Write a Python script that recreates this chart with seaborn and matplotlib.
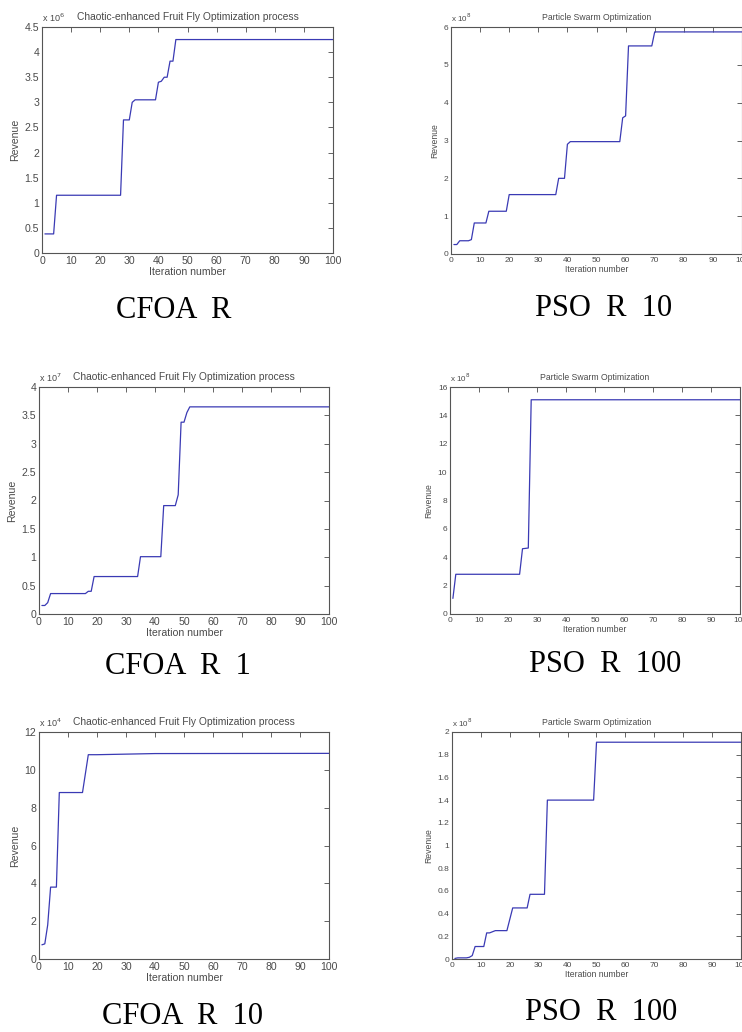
import matplotlib
matplotlib.use("Agg")
import matplotlib.pyplot as plt
import seaborn as sns
import pandas as pd
from matplotlib.ticker import FuncFormatter, MultipleLocator

sns.set_theme(style="white")
plt.rcParams['font.family'] = ['Liberation Sans', 'DejaVu Sans']

# ---- data (polyline vertices) ----
cfoa1_x = [1, 4, 5, 27, 28, 30, 31, 32, 39, 40, 41, 42, 43, 44, 45, 46, 100]
cfoa1_y = [0.38, 0.38, 1.15, 1.15, 2.65, 2.65, 3.0, 3.05, 3.05, 3.4, 3.42, 3.5, 3.5, 3.82, 3.82, 4.25, 4.25]

pso1_x = [1, 2, 3, 6, 7, 8, 12, 13, 19, 20, 36, 37, 39, 40, 41, 58, 59, 60, 61, 69, 70, 100]
pso1_y = [0.25, 0.25, 0.35, 0.35, 0.38, 0.82, 0.82, 1.13, 1.13, 1.57, 1.57, 2.0, 2.0, 2.9, 2.97, 2.97, 3.6, 3.65, 5.5, 5.5, 5.87, 5.87]

cfoa2_x = [1, 2, 3, 4, 16, 17, 18, 19, 34, 35, 42, 43, 47, 48, 49, 50, 51, 52, 100]
cfoa2_y = [0.15, 0.15, 0.2, 0.36, 0.36, 0.4, 0.4, 0.66, 0.66, 1.01, 1.01, 1.91, 1.91, 2.1, 3.38, 3.38, 3.55, 3.65, 3.65]

pso2_x = [1, 2, 24, 25, 27, 28, 100]
pso2_y = [1.1, 2.8, 2.8, 4.6, 4.65, 15.1, 15.1]

cfoa3_x = [1, 2, 3, 4, 6, 7, 15, 17, 20, 30, 40, 100]
cfoa3_y = [0.75, 0.8, 1.8, 3.8, 3.8, 8.8, 8.8, 10.8, 10.8, 10.83, 10.86, 10.87]

pso3_x = [1, 2, 5, 6, 7, 8, 11, 12, 13, 15, 19, 20, 21, 26, 27, 32, 33, 49, 50, 100]
pso3_y = [0.005, 0.01, 0.01, 0.015, 0.03, 0.11, 0.11, 0.23, 0.23, 0.25, 0.25, 0.35, 0.45, 0.45, 0.57, 0.57, 1.4, 1.4, 1.91, 1.91]

cfoa_title = "Chaotic-enhanced Fruit Fly Optimization process"
pso_title = "Particle Swarm Optimization"
x_label = "Iteration number"
y_label = "Revenue"
captions = ["CFOA  R", "PSO  R  10", "CFOA  R  1", "PSO  R  100", "CFOA  R  10", "PSO  R  100"]
exponents = [6, 8, 7, 8, 4, 8]
y_tops = [4.5, 6, 4, 16, 12, 2]
y_steps = [0.5, 1, 0.5, 2, 2, 0.2]

series = [(cfoa1_x, cfoa1_y), (pso1_x, pso1_y), (cfoa2_x, cfoa2_y),
          (pso2_x, pso2_y), (cfoa3_x, cfoa3_y), (pso3_x, pso3_y)]
titles = [cfoa_title, pso_title] * 3

W, H = 742, 1032
fig = plt.figure(figsize=(W / 100, H / 100), dpi=100)

# pixel boxes: left, right, top, bottom
boxes = [(42, 333, 27, 253), (451, 742, 27, 254),
         (39, 329, 387, 614), (450, 740, 387, 614),
         (39, 329, 732, 959), (452, 741, 732, 959)]
cap_pos = [(174, 311), (604, 309), (178, 666), (605, 664), (182, 1016), (601, 1013)]

grey = "#4a4a4a"
line_col = "#3a3ab4"

for i, ((xs, ys), (l, r, t, b)) in enumerate(zip(series, boxes)):
    ax = fig.add_axes([l / W, 1 - b / H, (r - l) / W, (b - t) / H])
    left = (i % 2 == 0)
    fs_tick = 7.6 if left else 6.0
    fs_lab = 7.6 if left else 6.2
    fs_title = 7.4 if left else 6.2
    fs_off = 6.5 if left else 5.8
    df = pd.DataFrame({"it": xs, "rev": ys})
    sns.lineplot(data=df, x="it", y="rev", ax=ax, color=line_col, lw=0.9,
                 estimator=None, sort=False)
    ax.set_xlim(0, 100)
    ax.set_ylim(0, y_tops[i])
    ax.xaxis.set_major_locator(MultipleLocator(10))
    ax.yaxis.set_major_locator(MultipleLocator(y_steps[i]))
    ax.yaxis.set_major_formatter(FuncFormatter(lambda v, p: "%g" % round(v, 6)))
    ax.tick_params(direction="in", length=3.5, width=0.6, top=True, right=True,
                   labelsize=fs_tick, colors=grey, pad=2)
    for s in ax.spines.values():
        s.set_color("#555555")
        s.set_linewidth(0.8)
    ax.set_xlabel(x_label, fontsize=fs_lab, color=grey, labelpad=1)
    ax.set_ylabel(y_label, fontsize=fs_lab, color=grey, labelpad=3)
    ax.set_title(titles[i], fontsize=fs_title, color=grey, pad=5)
    ax.text(0.0, 1.012, "x 10$^{%d}$" % exponents[i], transform=ax.transAxes,
            fontsize=fs_off, color=grey, ha="left", va="bottom")
    ax.set_facecolor("white")

for cap, (cx, cy) in zip(captions, cap_pos):
    fig.text(cx / W, 1 - cy / H, cap, fontsize=22, family="Liberation Serif",
             ha="center", va="center", color="black")

fig.savefig("out.png", dpi=100, facecolor="white")
